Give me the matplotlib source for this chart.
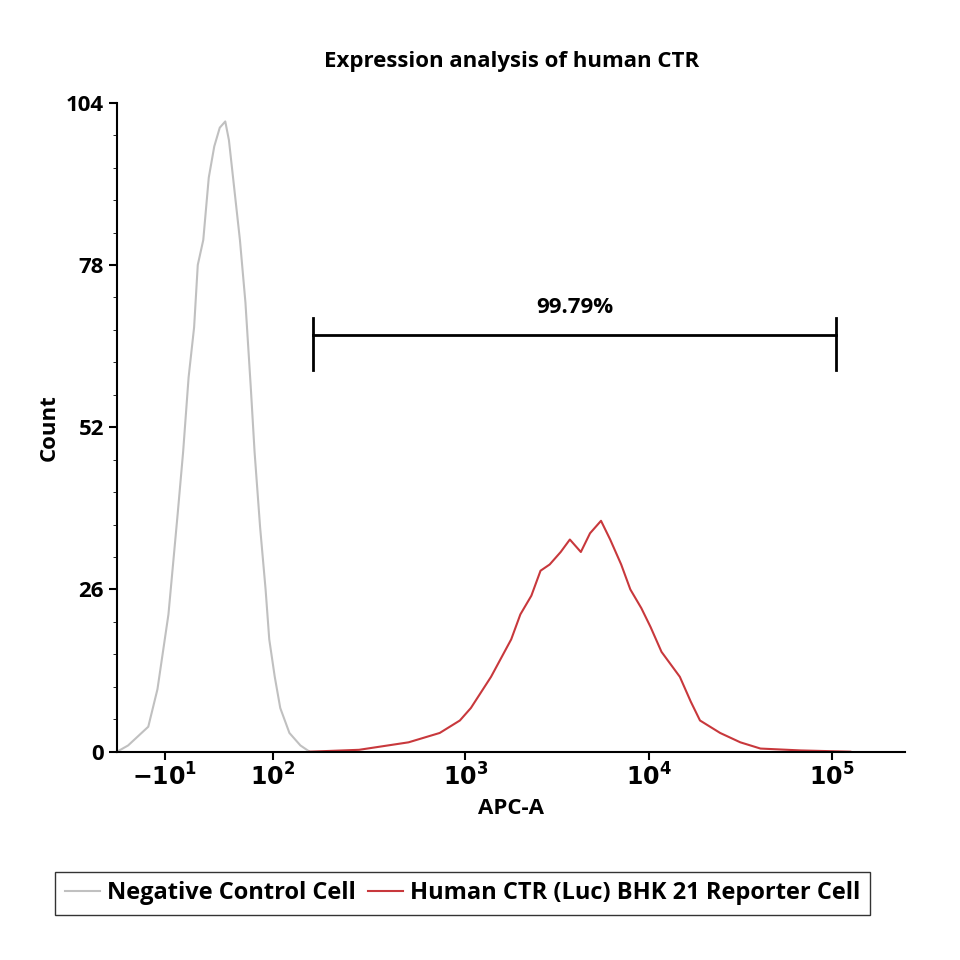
import matplotlib
matplotlib.use("Agg")
import matplotlib.pyplot as plt
import numpy as np

plt.rcParams['font.family'] = ['Open Sans', 'DejaVu Sans']
plt.rcParams['font.weight'] = 'bold'

# x positions in display decades (10^3 -> 3)
neg_x = [1.10,1.16,1.27,1.32,1.38,1.43,1.46,1.49,1.52,1.54,1.57,1.60,1.63,1.66,1.69,1.71,1.74,1.77,1.80,1.83,1.85,1.88,1.91,1.93,1.96,1.99,2.04,2.10,2.15]
neg_y = [0,1,4,10,22,38,48,60,68,78,82,92,97,100,101,98,90,82,72,58,48,36,26,18,12,7,3,1,0]
pos_x = [2.15,2.42,2.69,2.86,2.97,3.03,3.14,3.25,3.30,3.36,3.41,3.46,3.52,3.57,3.63,3.68,3.74,3.79,3.85,3.90,3.96,4.01,4.07,4.12,4.17,4.23,4.28,4.39,4.50,4.61,4.83,5.10]
pos_y = [0,0.3,1.5,3,5,7,12,18,22,25,29,30,32,34,32,35,37,34,30,26,23,20,16,14,12,8,5,3,1.5,0.5,0.2,0]
xtick_pos = [1.36, 1.95, 3, 4, 5]
xtick_lab = [r'$-10^{1}$', r'$10^{2}$', r'$10^{3}$', r'$10^{4}$', r'$10^{5}$']
ytick_vals = [0, 26, 52, 78, 104]
gate = (2.17, 5.02, 66.8)  # left, right, y
gate_label = '99.79%'

fig = plt.figure(figsize=(9.6, 9.6), dpi=100)
ax = fig.add_axes([0.122, 0.217, 0.821, 0.676])
ax.plot(neg_x, neg_y, color='#c0c0c0', lw=1.5, label='Negative Control Cell')
ax.plot(pos_x, pos_y, color='#c8383c', lw=1.5, label='Human CTR (Luc) BHK 21 Reporter Cell')
ax.set_xlim(1.10, 5.40)
ax.set_ylim(0, 104)
ax.set_xticks(xtick_pos)
ax.set_xticklabels(xtick_lab, fontsize=17, fontweight='bold')
ax.set_yticks(ytick_vals)
ax.set_yticklabels([str(v) for v in ytick_vals], fontsize=16, fontweight='bold')
ax.set_yticks(np.arange(0, 105, 5.2), minor=True)
ax.tick_params(axis='both', width=1.5, length=6)
ax.tick_params(axis='y', which='minor', length=3)
for s in ['top', 'right']:
    ax.spines[s].set_visible(False)
for s in ['left', 'bottom']:
    ax.spines[s].set_linewidth(1.5)
ax.set_xlabel('APC-A', fontsize=16, fontweight='bold')
ax.set_ylabel('Count', fontsize=16, fontweight='bold')
ax.set_title('Expression analysis of human CTR', fontsize=16, fontweight='bold', pad=26)

gl, gr, gy = gate
ax.plot([gl, gr], [gy, gy], color='black', lw=2)
ax.plot([gl, gl], [61.2, 69.5], color='black', lw=2)
ax.plot([gr, gr], [61.2, 69.5], color='black', lw=2)
ax.text((gl + gr) / 2, 69.5, gate_label, ha='center', va='bottom', fontsize=16, fontweight='bold')

fig.legend(loc='lower center', bbox_to_anchor=(0.482, 0.035), ncol=2, fontsize=17,
           frameon=True, fancybox=False, edgecolor='black', handlelength=1.5,
           handletextpad=0.3, columnspacing=0.5, borderpad=0.4)
fig.savefig('out.png', dpi=100)
